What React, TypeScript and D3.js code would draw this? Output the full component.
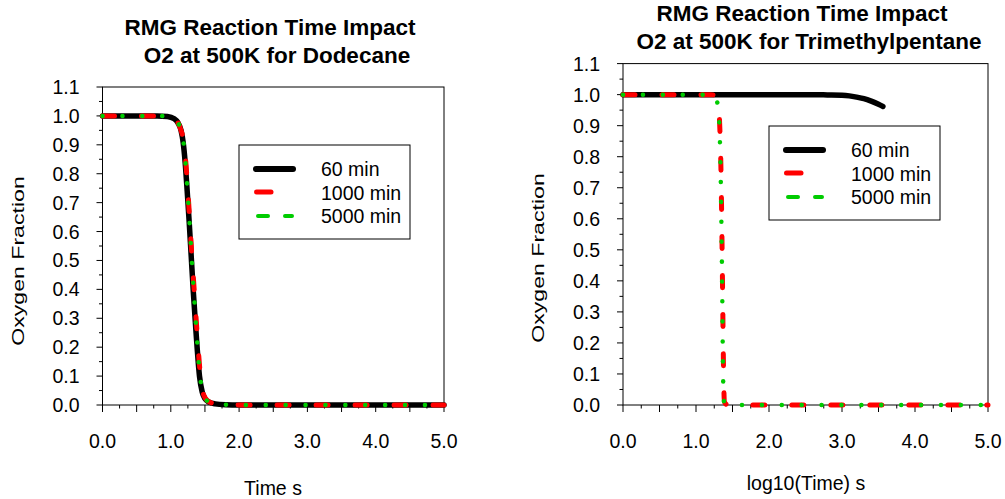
import * as d3 from 'd3';

const FONT = '"Liberation Sans", Arial, Helvetica, sans-serif';

// Dodecane, linear time (s)
const dodecaneTime60 = [0, 0.5, 0.8, 0.95, 1.05, 1.1, 1.15, 1.18, 1.21, 1.24, 1.27, 1.3, 1.33, 1.37, 1.42, 1.46, 1.5, 1.56, 1.65, 1.8, 2.0, 3.0, 4.0, 5.0];
const dodecaneTime1000 = [0, 0.5, 0.8, 0.95, 1.05, 1.1, 1.15, 1.19, 1.22, 1.25, 1.28, 1.31, 1.345, 1.385, 1.435, 1.47, 1.51, 1.57, 1.66, 1.8, 2.0, 3.0, 4.0, 5.0];
const dodecaneTime5000 = [0, 0.5, 0.8, 0.95, 1.05, 1.1, 1.15, 1.185, 1.215, 1.245, 1.275, 1.305, 1.338, 1.377, 1.428, 1.465, 1.505, 1.565, 1.655, 1.8, 2.0, 3.0, 4.0, 5.0];
const dodecaneO2 = [1.0, 1.0, 1.0, 0.998, 0.99, 0.978, 0.95, 0.91, 0.84, 0.74, 0.63, 0.51, 0.39, 0.25, 0.1, 0.045, 0.022, 0.01, 0.004, 0.001, 0, 0, 0, 0];

// Trimethylpentane, log10(time)
const tmpTime60 = [0, 1, 2, 2.5, 2.8, 3.0, 3.1, 3.2, 3.3, 3.4, 3.5, 3.56];
const tmpO2_60 = [1, 1, 1, 1, 0.999, 0.998, 0.996, 0.992, 0.987, 0.979, 0.969, 0.962];
const tmpTime1000 = [0, 1.0, 1.2, 1.25, 1.28, 1.3, 1.315, 1.325, 1.34, 1.355, 1.365, 1.375, 1.382, 1.39, 1.42, 1.5, 2, 3, 4, 5];
const tmpO2_1000 = [1, 1, 1, 0.998, 0.992, 0.975, 0.95, 0.9, 0.78, 0.55, 0.35, 0.15, 0.05, 0.01, 0.002, 0, 0, 0, 0, 0];
const tmpTime5000 = [0, 1.0, 1.2, 1.25, 1.275, 1.295, 1.31, 1.32, 1.335, 1.35, 1.36, 1.368, 1.375, 1.385, 1.42, 1.5, 2, 3, 4, 5];
const tmpO2_5000 = [1, 1, 1, 0.998, 0.99, 0.97, 0.94, 0.9, 0.78, 0.55, 0.35, 0.15, 0.05, 0.01, 0.002, 0, 0, 0, 0, 0];

const legendNames = ['60 min', '1000 min', '5000 min'];
const xTickLabels = ['0.0', '1.0', '2.0', '3.0', '4.0', '5.0'];
const yTickLabels = ['0.0', '0.1', '0.2', '0.3', '0.4', '0.5', '0.6', '0.7', '0.8', '0.9', '1.0', '1.1'];

const styles = [
  { stroke: '#000', width: 5.5, dash: undefined as string | undefined },
  { stroke: '#ff0000', width: 5, dash: '12,27' },
  { stroke: '#00cc00', width: 4.5, dash: '0.1,19.8' },
];

type Series = { t: number[]; v: number[] };

type PanelProps = {
  x0: number; x1: number; yTop: number; yBottom: number;
  title: [string, string]; titleX: [number, number]; titleY: [number, number];
  xLabel: string; xLabelX: number; xLabelY: number;
  yLabelX: number; yLabelY: number;
  series: Series[];
  legendX: number; legendY: number;
};

function Panel(p: PanelProps) {
  const x = d3.scaleLinear().domain([0, 5]).range([p.x0, p.x1]);
  const y = d3.scaleLinear().domain([0, 1.1]).range([p.yBottom, p.yTop]);
  const line = d3.line<[number, number]>()
    .x(d => x(d[0]))
    .y(d => y(d[1]))
    .curve(d3.curveMonotoneX);

  const xQuarter = d3.range(0, 21).map(i => i * 0.25);
  const yHalfTenth = d3.range(0, 23).map(i => i * 0.05);

  return (
    <g fontFamily={FONT}>
      <text x={p.titleX[0]} y={p.titleY[0]} textAnchor="middle" fontWeight="bold" fontSize={22.5}>{p.title[0]}</text>
      <text x={p.titleX[1]} y={p.titleY[1]} textAnchor="middle" fontWeight="bold" fontSize={22.5}>{p.title[1]}</text>

      {/* frame */}
      <rect x={p.x0} y={p.yTop} width={p.x1 - p.x0} height={p.yBottom - p.yTop} fill="none" stroke="#000" strokeWidth={1} />

      {/* x ticks */}
      {xQuarter.map((v, i) => (
        <line key={'xt' + i} x1={x(v)} x2={x(v)} y1={p.yBottom} y2={p.yBottom + (i % 2 === 0 ? 7 : 3.5)} stroke="#000" strokeWidth={1} />
      ))}
      {xTickLabels.map((s, i) => (
        <text key={'xl' + i} x={x(i)} y={p.yBottom + 43} textAnchor="middle" fontSize={19.5}>{s}</text>
      ))}

      {/* y ticks */}
      {yHalfTenth.map((v, i) => (
        <line key={'yt' + i} x1={p.x0} x2={p.x0 - (i % 2 === 0 ? 6 : 3.5)} y1={y(v)} y2={y(v)} stroke="#000" strokeWidth={1} />
      ))}
      {yTickLabels.map((s, i) => (
        <text key={'yl' + i} x={p.x0 - 23} y={y(i * 0.1)} dy="0.36em" textAnchor="end" fontSize={19.5}>{s}</text>
      ))}

      <text x={p.xLabelX} y={p.xLabelY} textAnchor="middle" fontSize={19.5}>{p.xLabel}</text>
      <text transform={`translate(${p.yLabelX},${p.yLabelY}) rotate(-90) scale(1.36,1)`} textAnchor="middle" fontSize={17}>Oxygen Fraction</text>

      {/* curves */}
      {p.series.map((s, i) => (
        <path key={'s' + i}
          d={line(s.t.map((t, j) => [t, s.v[j]] as [number, number])) || ''}
          fill="none" stroke={styles[i].stroke} strokeWidth={styles[i].width}
          strokeDasharray={styles[i].dash} strokeLinecap="round" strokeLinejoin="round" />
      ))}

      {/* legend */}
      <g transform={`translate(${p.legendX},${p.legendY})`}>
        <rect x={0} y={0} width={171} height={94} fill="#fff" stroke="#000" strokeWidth={1} />
        <line x1={17} x2={54} y1={24} y2={24} stroke="#000" strokeWidth={6} strokeLinecap="round" />
        <line x1={17.5} x2={32} y1={47} y2={47} stroke="#ff0000" strokeWidth={5} strokeLinecap="round" />
        <line x1={19} x2={53} y1={71} y2={71} stroke="#00cc00" strokeWidth={4} strokeLinecap="round" strokeDasharray="10,17" />
        {legendNames.map((n, i) => (
          <text key={'ln' + i} x={82} y={24 + i * 23.5} dy="0.36em" fontSize={19.5}>{n}</text>
        ))}
      </g>
    </g>
  );
}

export default function App() {
  return (
    <svg width={1005} height={499} style={{ position: 'absolute', left: 0, top: 0, background: '#fff' }}>
      <rect width={1005} height={499} fill="#fff" />
      <Panel
        x0={102.5} x1={444} yTop={87} yBottom={405}
        title={['RMG Reaction Time Impact', 'O2 at 500K for Dodecane']}
        titleX={[270, 277]} titleY={[35, 63]}
        xLabel="Time s" xLabelX={273} xLabelY={495}
        yLabelX={24} yLabelY={261}
        series={[
          { t: dodecaneTime60, v: dodecaneO2 },
          { t: dodecaneTime1000, v: dodecaneO2 },
          { t: dodecaneTime5000, v: dodecaneO2 },
        ]}
        legendX={239} legendY={145}
      />
      <Panel
        x0={623} x1={988} yTop={63.6} yBottom={405}
        title={['RMG Reaction Time Impact', 'O2 at 500K for Trimethylpentane']}
        titleX={[802, 809]} titleY={[21, 49]}
        xLabel="log10(Time) s" xLabelX={806} xLabelY={490}
        yLabelX={544} yLabelY={258}
        series={[
          { t: tmpTime60, v: tmpO2_60 },
          { t: tmpTime1000, v: tmpO2_1000 },
          { t: tmpTime5000, v: tmpO2_5000 },
        ]}
        legendX={769} legendY={126}
      />
    </svg>
  );
}
